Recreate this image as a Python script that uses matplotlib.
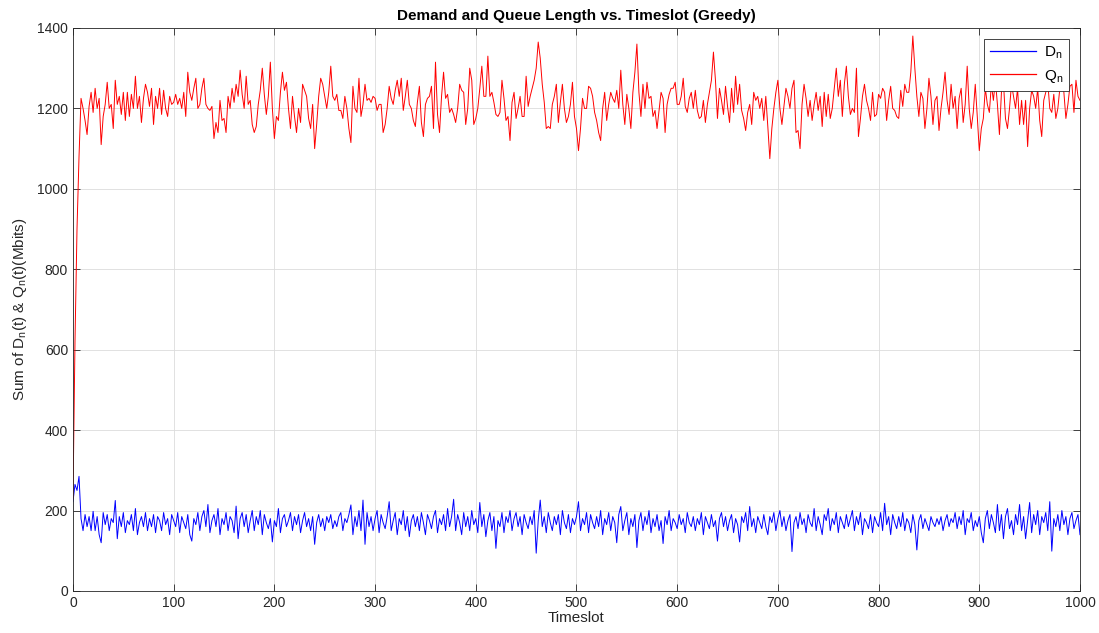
import matplotlib.pyplot as plt
from matplotlib.lines import Line2D
import numpy as np

# Sampled every 2 timeslots (t = 0, 2, ..., 1000)
queue = [
    230, 620, 900, 1080, 1225, 1200, 1170, 1135, 1205, 1240,
    1190, 1250, 1200, 1225, 1110, 1180, 1210, 1265, 1200, 1210,
    1150, 1270, 1210, 1230, 1185, 1240, 1170, 1240, 1180, 1235,
    1200, 1280, 1200, 1230, 1165, 1225, 1260, 1240, 1205, 1250,
    1160, 1230, 1200, 1250, 1185, 1245, 1200, 1180, 1230, 1210,
    1215, 1235, 1210, 1225, 1200, 1240, 1180, 1290, 1240, 1220,
    1250, 1275, 1200, 1210, 1250, 1275, 1210, 1200, 1195, 1205,
    1125, 1165, 1140, 1220, 1170, 1175, 1140, 1230, 1200, 1250,
    1215, 1260, 1230, 1295, 1235, 1200, 1280, 1210, 1220, 1160,
    1140, 1155, 1210, 1245, 1300, 1235, 1185, 1230, 1315, 1200,
    1125, 1180, 1170, 1240, 1290, 1245, 1265, 1200, 1150, 1230,
    1180, 1140, 1200, 1165, 1260, 1245, 1230, 1175, 1150, 1210,
    1100, 1160, 1230, 1275, 1260, 1230, 1200, 1240, 1305, 1230,
    1220, 1235, 1195, 1195, 1175, 1230, 1200, 1150, 1115, 1255,
    1200, 1190, 1275, 1180, 1210, 1260, 1220, 1225, 1215, 1230,
    1225, 1195, 1210, 1210, 1140, 1160, 1200, 1255, 1225, 1210,
    1245, 1270, 1230, 1275, 1195, 1230, 1270, 1210, 1200, 1170,
    1155, 1215, 1255, 1165, 1130, 1210, 1225, 1230, 1255, 1150,
    1315, 1185, 1140, 1230, 1290, 1225, 1235, 1190, 1200, 1185,
    1165, 1200, 1260, 1245, 1240, 1160, 1200, 1300, 1270, 1160,
    1175, 1200, 1250, 1305, 1230, 1230, 1330, 1230, 1240, 1215,
    1185, 1180, 1190, 1270, 1225, 1170, 1180, 1120, 1215, 1240,
    1175, 1200, 1230, 1180, 1180, 1280, 1205, 1230, 1250, 1270,
    1300, 1365, 1325, 1260, 1215, 1150, 1155, 1150, 1210, 1230,
    1260, 1165, 1215, 1260, 1200, 1165, 1180, 1210, 1265, 1180,
    1150, 1095, 1150, 1225, 1200, 1200, 1255, 1250, 1230, 1190,
    1170, 1140, 1120, 1200, 1240, 1170, 1210, 1240, 1225, 1215,
    1245, 1200, 1295, 1210, 1160, 1235, 1200, 1150, 1240, 1290,
    1360, 1240, 1180, 1260, 1200, 1265, 1225, 1230, 1180, 1195,
    1150, 1195, 1240, 1225, 1140, 1210, 1235, 1250, 1250, 1265,
    1210, 1210, 1230, 1275, 1205, 1190, 1225, 1240, 1200, 1245,
    1195, 1175, 1180, 1220, 1165, 1210, 1240, 1270, 1340, 1270,
    1175, 1250, 1220, 1185, 1255, 1205, 1165, 1250, 1190, 1280,
    1210, 1260, 1195, 1175, 1145, 1190, 1210, 1160, 1240, 1220,
    1230, 1200, 1225, 1170, 1230, 1155, 1075, 1150, 1200, 1240,
    1270, 1200, 1160, 1205, 1250, 1230, 1200, 1250, 1270, 1140,
    1145, 1100, 1210, 1260, 1225, 1180, 1220, 1170, 1210, 1240,
    1195, 1230, 1155, 1240, 1180, 1235, 1175, 1200, 1250, 1300,
    1230, 1270, 1180, 1260, 1305, 1230, 1185, 1200, 1190, 1300,
    1130, 1175, 1230, 1260, 1220, 1200, 1170, 1240, 1180, 1185,
    1235, 1225, 1250, 1240, 1170, 1220, 1255, 1200, 1195, 1180,
    1175, 1245, 1205, 1260, 1240, 1240, 1290, 1380, 1300, 1230,
    1180, 1240, 1225, 1150, 1200, 1275, 1230, 1160, 1220, 1230,
    1145, 1200, 1240, 1290, 1220, 1185, 1260, 1200, 1230, 1150,
    1225, 1250, 1165, 1210, 1305, 1200, 1150, 1190, 1260, 1180,
    1095, 1150, 1175, 1250, 1210, 1190, 1260, 1220, 1270, 1210,
    1135, 1240, 1265, 1175, 1150, 1200, 1260, 1230, 1200, 1250,
    1160, 1220, 1160, 1220, 1105, 1200, 1245, 1230, 1200, 1250,
    1170, 1130, 1220, 1240, 1265, 1200, 1190, 1235, 1175, 1200,
    1250, 1265, 1240, 1175, 1210, 1255, 1260, 1190, 1270, 1230,
    1220,
]

demand = [
    222, 265, 250, 285, 180, 150, 190, 160, 185, 150,
    198, 150, 185, 140, 120, 195, 165, 190, 150, 180,
    170, 225, 130, 185, 160, 195, 145, 175, 165, 190,
    150, 205, 140, 170, 185, 160, 195, 150, 180, 160,
    190, 145, 185, 175, 150, 195, 165, 180, 140, 190,
    175, 160, 195, 145, 185, 170, 155, 190, 140, 124,
    180, 165, 195, 150, 185, 200, 160, 215, 145, 175,
    190, 160, 205, 140, 180, 165, 195, 150, 185, 175,
    145, 211, 130, 180, 195, 160, 190, 145, 175, 200,
    150, 185, 165, 200, 140, 190, 170, 155, 180, 122,
    175, 160, 205, 145, 180, 190, 160, 175, 195, 150,
    185, 165, 190, 145, 175, 195, 160, 180, 150, 185,
    116, 170, 190, 160, 180, 150, 185, 170, 190, 155,
    175, 160, 185, 195, 150, 180, 170, 190, 214, 140,
    185, 160, 200, 150, 226, 116, 195, 160, 185, 150,
    180, 200, 145, 190, 170, 155, 185, 222, 150, 175,
    195, 140, 180, 165, 200, 150, 185, 135, 175, 190,
    160, 185, 150, 195, 170, 140, 190, 175, 155, 185,
    200, 145, 180, 165, 190, 150, 205, 160, 185, 228,
    150, 190, 170, 140, 195, 160, 185, 150, 200, 165,
    180, 145, 220, 160, 190, 135, 175, 195, 150, 185,
    106, 175, 160, 195, 145, 185, 170, 200, 150, 180,
    195, 160, 185, 140, 190, 170, 155, 185, 165, 200,
    94, 175, 226, 160, 185, 145, 195, 170, 150, 185,
    165, 190, 140, 200, 170, 155, 190, 145, 180, 165,
    185, 222, 150, 180, 165, 195, 145, 190, 170, 155,
    185, 160, 200, 140, 180, 165, 195, 150, 185, 170,
    120, 190, 210, 150, 175, 195, 140, 180, 160, 190,
    108, 175, 195, 150, 185, 165, 200, 145, 180, 160,
    190, 150, 175, 118, 185, 165, 200, 150, 180, 170,
    155, 190, 165, 180, 145, 195, 170, 160, 185, 150,
    180, 165, 195, 140, 185, 170, 155, 190, 160, 175,
    124, 180, 195, 160, 185, 150, 175, 190, 145, 180,
    165, 122, 185, 170, 195, 150, 210, 160, 180, 145,
    185, 170, 155, 190, 160, 140, 185, 170, 195, 150,
    180, 200, 160, 185, 150, 175, 190, 98, 170, 185,
    155, 195, 165, 180, 145, 190, 170, 160, 205, 150,
    185, 165, 140, 190, 175, 205, 150, 180, 165, 195,
    145, 185, 170, 155, 190, 160, 180, 200, 150, 185,
    165, 195, 140, 180, 170, 155, 190, 145, 185, 170,
    160, 195, 150, 218, 165, 185, 140, 190, 170, 155,
    185, 160, 195, 150, 180, 170, 145, 190, 165, 102,
    175, 190, 155, 180, 165, 150, 185, 170, 160, 180,
    165, 185, 150, 175, 190, 160, 180, 170, 195, 155,
    185, 165, 200, 140, 180, 170, 195, 150, 175, 160,
    185, 145, 120, 180, 200, 155, 190, 170, 145, 215,
    150, 190, 130, 185, 205, 155, 175, 140, 190, 165,
    215, 150, 185, 130, 175, 220, 145, 190, 165, 200,
    140, 185, 170, 195, 150, 222, 99, 180, 160, 190,
    150, 200, 165, 185, 140, 180, 195, 155, 175, 190,
    140,
]

t = np.arange(len(queue)) * 2
td = np.arange(len(demand)) * 2

plt.rcParams['font.family'] = ['Liberation Sans', 'DejaVu Sans']
plt.rcParams['font.size'] = 10

fig = plt.figure(figsize=(10.99, 6.33), dpi=100)
ax = fig.add_axes([0.0664, 0.0664, 0.9163, 0.8894])

ax.plot(td, demand, color='#0000ff', linewidth=0.7)
ax.plot(t, queue, color='#ff0000', linewidth=0.7)

ax.set_xlim(0, 1000)
ax.set_ylim(0, 1400)
ax.set_xticks(np.arange(0, 1001, 100))
ax.set_yticks(np.arange(0, 1401, 200))
ax.grid(True, color='#dcdcdc', linewidth=0.6)
ax.set_axisbelow(True)
ax.tick_params(direction='in', top=True, right=True, length=5, width=0.6,
               labelcolor='#262626', color='#262626', labelsize=10)
for s in ax.spines.values():
    s.set_color('#262626')
    s.set_linewidth(0.6)

ax.set_title('Demand and Queue Length vs. Timeslot (Greedy)', fontsize=11, fontweight='bold', pad=6)
ax.set_xlabel('Timeslot', fontsize=11, color='#262626', labelpad=1)
ax.set_ylabel(r'Sum of D$_\mathregular{n}$(t) & Q$_\mathregular{n}$(t)(Mbits)', fontsize=11,
              color='#262626', labelpad=6)

proxy_d = Line2D([], [], color='#0000ff', linewidth=0.9)
proxy_q = Line2D([], [], color='#ff0000', linewidth=0.9)
leg = ax.legend([proxy_d, proxy_q], [r'D$_\mathregular{n}$', r'Q$_\mathregular{n}$'],
                loc='upper right', fontsize=11, fancybox=False, framealpha=1,
                edgecolor='#262626', handlelength=3.0, handletextpad=0.5,
                borderaxespad=0.7, labelspacing=0.4)
leg.get_frame().set_linewidth(0.6)

plt.savefig('out.png', dpi=100)
